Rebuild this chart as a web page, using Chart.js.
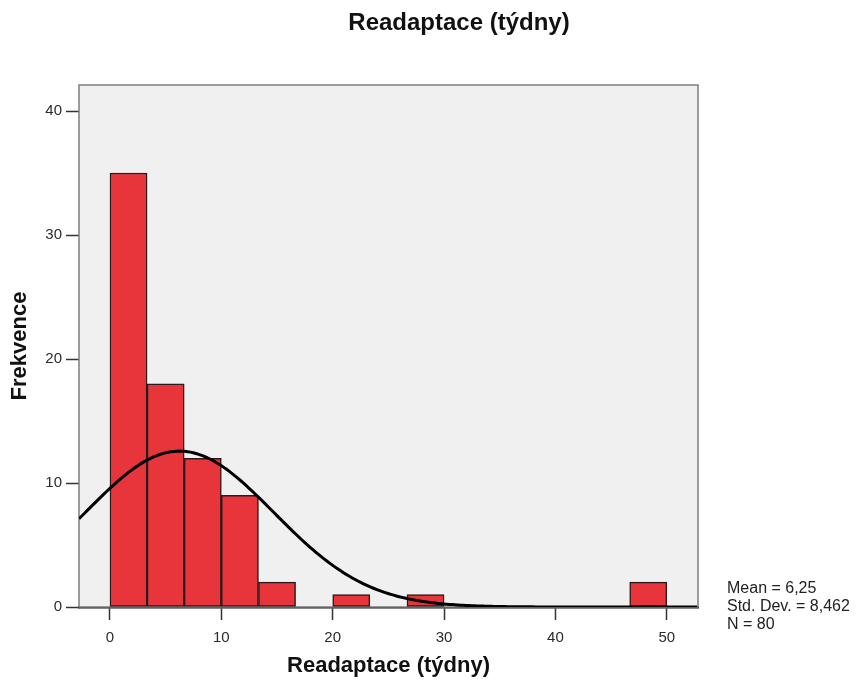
<!DOCTYPE html>
<html>
<head>
<meta charset="utf-8">
<title>Readaptace (týdny)</title>
<script src="https://cdn.jsdelivr.net/npm/chart.js@4.4.1/dist/chart.umd.min.js"></script>
<style>
  body { margin: 0; background: #fff; }
  #histogram { display: block; }
</style>
</head>
<body>
<canvas id="histogram" width="857" height="683"></canvas>
<script>
// histogram bins (start of each bin, weeks) and frequencies
const binWidth = 10 / 3
const binStarts = [0, 10 / 3, 20 / 3, 10, 40 / 3, 20, 80 / 3, 140 / 3]
const counts = [35, 18, 12, 9, 2, 1, 1, 2]

// summary stats printed next to the plot
const mean = 6.25
const stdDev = 8.462
const n = 80
const statsLines = ['Mean = 6,25', 'Std. Dev. = 8,462', 'N = 80']

const titleText = 'Readaptace (týdny)'
const xTitle = 'Readaptace (týdny)'
const yTitle = 'Frekvence'

const xMin = -2.78
const xMax = 52.8
const yMax = 42.1

const FONT = '"Liberation Sans", Arial, sans-serif'

const barData = binStarts.map((start, i) => {
  return { x: start + binWidth / 2, y: counts[i] }
})

// normal curve scaled to the histogram: n * binWidth * pdf(x)
const normalHeight = (x) => {
  const z = (x - mean) / stdDev
  return n * binWidth * Math.exp(-0.5 * z * z) / (stdDev * Math.sqrt(2 * Math.PI))
}
const curveData = []
for (let x = xMin; x <= xMax + 0.001; x += 0.25) {
  curveData.push({ x: x, y: normalHeight(x) })
}

// grey plot background with a thin frame
const plotFrame = {
  id: 'plotFrame',
  beforeDatasetsDraw(chart) {
    const { ctx, chartArea: a } = chart
    ctx.save()
    ctx.fillStyle = '#f0f0f0'
    ctx.fillRect(a.left, a.top, a.right - a.left, a.bottom - a.top)
    ctx.strokeStyle = '#7d7d7d'
    ctx.lineWidth = 1.5
    ctx.strokeRect(a.left, a.top, a.right - a.left, a.bottom - a.top)
    ctx.restore()
  }
}

// main title and the stats box on the right
const extraText = {
  id: 'extraText',
  afterDraw(chart) {
    const ctx = chart.ctx
    ctx.save()
    ctx.fillStyle = '#111'
    ctx.font = 'bold 24px ' + FONT
    ctx.textAlign = 'center'
    ctx.textBaseline = 'middle'
    ctx.fillText(titleText, 459, 23)

    ctx.fillStyle = '#222'
    ctx.font = '16px ' + FONT
    ctx.textAlign = 'left'
    statsLines.forEach((line, i) => {
      ctx.fillText(line, 727, 589 + i * 18)
    })
    ctx.restore()
  }
}

const ctx = document.getElementById('histogram').getContext('2d')

const chart = new Chart(ctx, {
  type: 'bar',
  data: {
    datasets: [
      {
        type: 'line',
        data: curveData,
        borderColor: '#000',
        borderWidth: 3,
        pointRadius: 0,
        tension: 0,
        fill: false,
        order: 0
      },
      {
        type: 'bar',
        data: barData,
        backgroundColor: '#e8353b',
        borderColor: '#2a1a1a',
        borderWidth: 1.5,
        borderSkipped: false,
        barPercentage: 1,
        categoryPercentage: 1,
        order: 1
      }
    ]
  },
  options: {
    responsive: false,
    animation: false,
    events: [],
    layout: {
      padding: { left: 0, right: 159, top: 85, bottom: 0 }
    },
    plugins: {
      legend: { display: false },
      tooltip: { enabled: false }
    },
    scales: {
      x: {
        type: 'linear',
        min: xMin,
        max: xMax,
        offset: false,
        afterFit: (scale) => { scale.height = 76 },
        grid: {
          offset: false,
          drawOnChartArea: false,
          tickLength: 13,
          tickColor: '#333',
          tickWidth: 1.5
        },
        border: { color: '#111', width: 2.5 },
        ticks: {
          stepSize: 10,
          includeBounds: false,
          padding: 9,
          color: '#2b2b2b',
          font: { family: FONT, size: 15 }
        },
        title: {
          display: true,
          text: xTitle,
          color: '#111',
          font: { family: FONT, size: 22, weight: 'bold' },
          padding: { top: 0, bottom: 4 }
        }
      },
      y: {
        min: 0,
        max: yMax,
        afterFit: (scale) => { scale.width = 79 },
        grid: {
          drawOnChartArea: false,
          tickLength: 13,
          tickColor: '#333',
          tickWidth: 1.5
        },
        border: { display: false },
        ticks: {
          stepSize: 10,
          includeBounds: false,
          padding: 4,
          color: '#2b2b2b',
          font: { family: FONT, size: 15 }
        },
        title: {
          display: true,
          text: yTitle,
          color: '#111',
          font: { family: FONT, size: 22, weight: 'bold' },
          padding: { top: 7, bottom: 0 }
        }
      }
    }
  },
  plugins: [plotFrame, extraText]
})
</script>
</body>
</html>
